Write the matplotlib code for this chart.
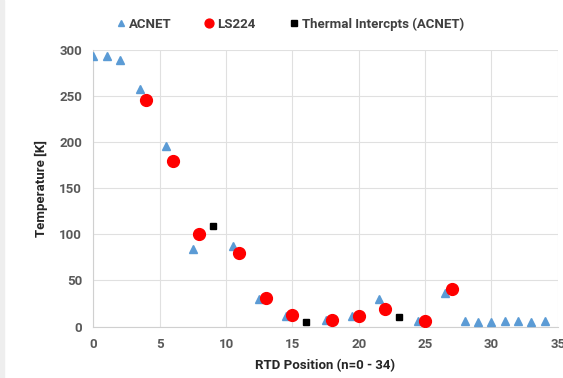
import matplotlib
matplotlib.use("Agg")
import matplotlib.pyplot as plt
from matplotlib.patches import Rectangle

# RTD temperatures along the string
acnet_pos = [0, 1, 2, 3.5, 5.5, 7.5, 10.5, 12.5, 14.5, 17.5, 19.5, 21.5,
             24.5, 26.5, 28, 29, 30, 31, 32, 33, 34]
acnet_temp = [294, 294, 290, 258, 196, 84, 87, 30, 11, 7, 11, 30,
              6, 36, 6, 5, 5, 6, 6, 5, 6]

ls224_pos = [4, 6, 8, 11, 13, 15, 18, 20, 22, 25, 27]
ls224_temp = [246, 180, 100, 80, 31, 12, 7, 11, 19, 6, 41]

intercept_pos = [9, 16, 23]
intercept_temp = [109, 5, 10]

x_ticks = [0, 5, 10, 15, 20, 25, 30, 35]
y_ticks = [0, 50, 100, 150, 200, 250, 300]

plt.rcParams['font.family'] = ['Roboto', 'DejaVu Sans']
plt.rcParams['font.weight'] = 'bold'

fig = plt.figure(figsize=(5.63, 3.78), dpi=100)
fig.patches.append(Rectangle((0, 0), 4 / 563, 1, transform=fig.transFigure,
                             color='#eeeeee', zorder=0))
ax = fig.add_axes([93.3 / 563, 1 - 326.5 / 378,
                   (557.8 - 93.3) / 563, (326.5 - 50.3) / 378])

ax.plot(acnet_pos, acnet_temp, ls='none', marker='^', ms=6,
        color='#5b9bd5', mec='#5b9bd5', label='ACNET', zorder=3)
ax.plot(ls224_pos, ls224_temp, ls='none', marker='o', ms=8.5,
        color='#ff0000', mec='#ff0000', label='LS224', zorder=4)
ax.plot(intercept_pos, intercept_temp, ls='none', marker='s', ms=5,
        color='black', mec='black', label='Thermal Intercpts (ACNET)', zorder=5)

ax.set_xlim(0, 35)
ax.set_ylim(0, 300)
ax.set_xticks(x_ticks)
ax.set_yticks(y_ticks)
ax.grid(True, color='#e0e0e0', lw=0.8)
ax.set_axisbelow(True)
for s in ['top', 'right']:
    ax.spines[s].set_visible(False)
for s in ['left', 'bottom']:
    ax.spines[s].set_color('#d0d0d0')
    ax.spines[s].set_linewidth(0.8)
ax.tick_params(length=0, labelsize=9.5, labelcolor='#595959', pad=8)
for lab in ax.get_xticklabels() + ax.get_yticklabels():
    lab.set_fontweight('bold')

ax.set_xlabel('RTD Position (n=0 - 34)', fontsize=9.5, fontweight='bold',
              color='#262626', labelpad=6)
ax.set_ylabel('Temperature [K]', fontsize=9.5, fontweight='bold',
              color='#262626', labelpad=8)

leg = fig.legend(loc='center', bbox_to_anchor=(289 / 563, 1 - 24 / 378),
                 ncol=3, frameon=False, fontsize=9.5, handletextpad=0.1,
                 columnspacing=2.4, handlelength=1.0, markerscale=0.75)
for t in leg.get_texts():
    t.set_color('#404040')
    t.set_fontweight('bold')

fig.savefig('out.png', dpi=100)
